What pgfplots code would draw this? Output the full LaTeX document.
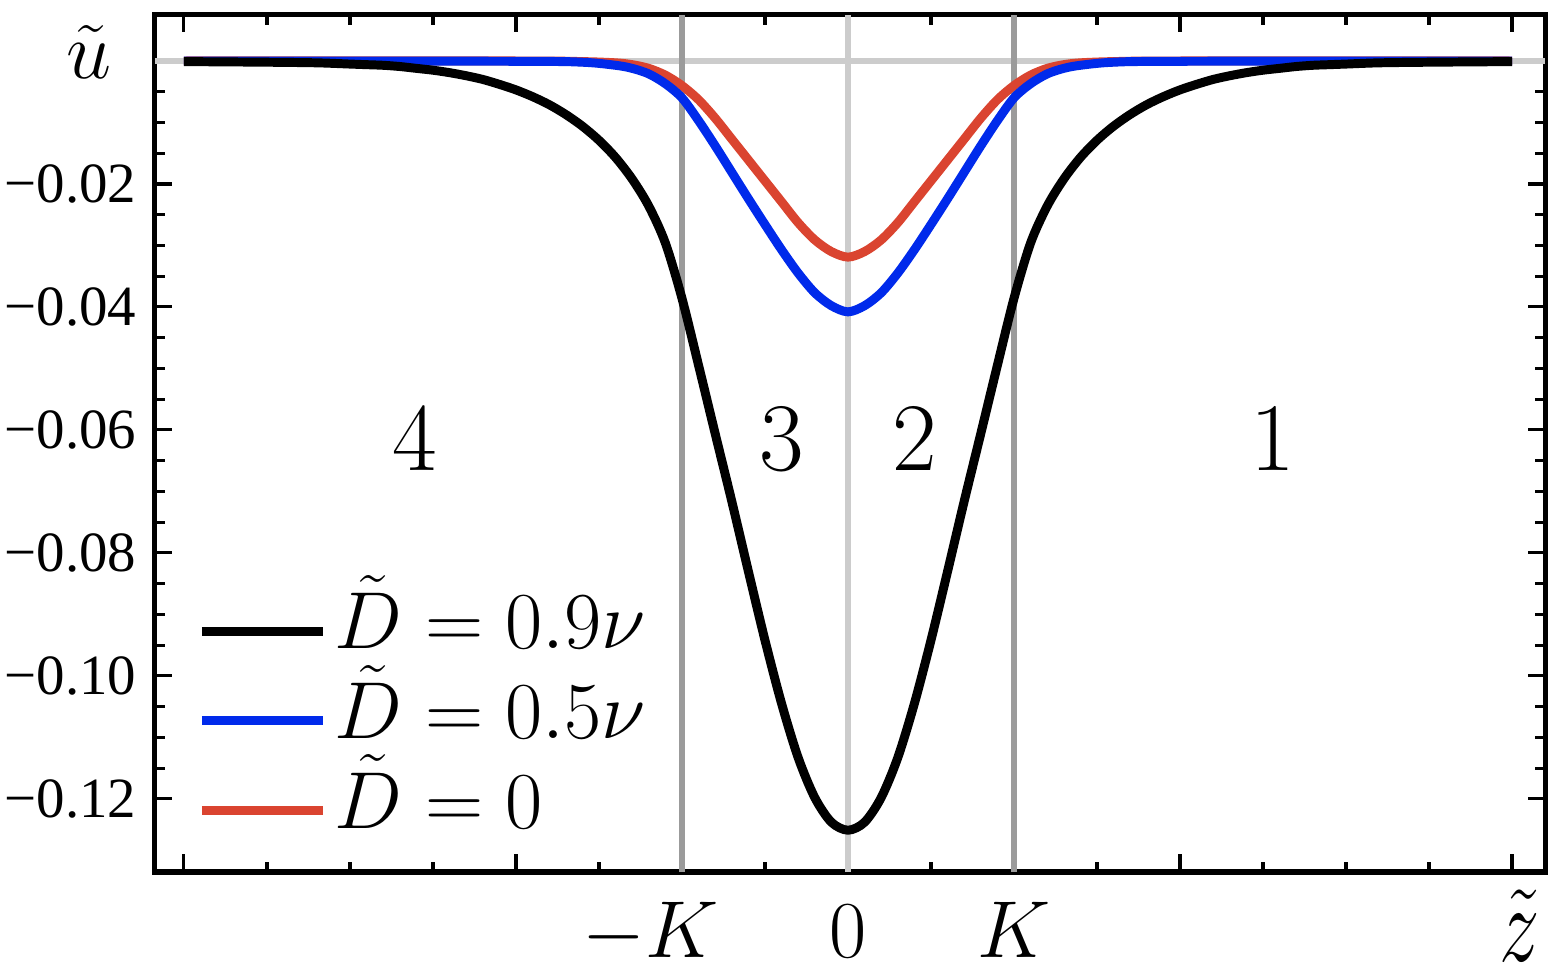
\documentclass[border=0pt]{standalone}
\usepackage{fontspec}
\usepackage{pgfplots}
\usepackage{pgfplotstable}
\pgfplotsset{compat=1.18}
\newfontfamily\tickfont{Liberation Serif}

\definecolor{mblue}{RGB}{0,42,235}
\definecolor{mred}{RGB}{218,68,48}
\definecolor{lgray}{RGB}{204,204,204}
\definecolor{dgray}{RGB}{155,155,155}

% D = 0.9 nu
\pgfplotstableread{
z u
-4.0 -0.0001
-3.5 -0.0002
-3.2 -0.0003
-3.0 -0.0005
-2.9 -0.0006
-2.8 -0.0007
-2.7 -0.0009
-2.6 -0.0012
-2.5 -0.0015
-2.4 -0.0019
-2.3 -0.0024
-2.2 -0.0030
-2.1 -0.0038
-2.0 -0.0047
-1.9 -0.0058
-1.8 -0.0071
-1.7 -0.0087
-1.6 -0.0106
-1.5 -0.0129
-1.4 -0.0157
-1.3 -0.0192
-1.2 -0.0236
-1.1 -0.0296
-1.0 -0.0386
-0.9 -0.0495
-0.8 -0.0606
-0.7 -0.0716
-0.6 -0.0830
-0.5 -0.0942
-0.4 -0.1045
-0.3 -0.1133
-0.2 -0.1198
-0.1 -0.1238
0.0 -0.1251
0.1 -0.1238
0.2 -0.1198
0.3 -0.1133
0.4 -0.1045
0.5 -0.0942
0.6 -0.0830
0.7 -0.0716
0.8 -0.0606
0.9 -0.0495
1.0 -0.0386
1.1 -0.0296
1.2 -0.0236
1.3 -0.0192
1.4 -0.0157
1.5 -0.0129
1.6 -0.0106
1.7 -0.0087
1.8 -0.0071
1.9 -0.0058
2.0 -0.0047
2.1 -0.0038
2.2 -0.0030
2.3 -0.0024
2.4 -0.0019
2.5 -0.0015
2.6 -0.0012
2.7 -0.0009
2.8 -0.0007
2.9 -0.0006
3.0 -0.0005
3.2 -0.0003
3.5 -0.0002
4.0 -0.0001
}\blackdata

% D = 0.5 nu
\pgfplotstableread{
z u
-4.0 0
-2.0 -0.00005
-1.6 -0.0002
-1.4 -0.0007
-1.3 -0.0012
-1.2 -0.0021
-1.1 -0.0037
-1.0 -0.0060
-0.9 -0.0097
-0.8 -0.0138
-0.7 -0.0181
-0.6 -0.0224
-0.5 -0.0266
-0.4 -0.0307
-0.3 -0.0345
-0.2 -0.0377
-0.1 -0.0398
0.0 -0.0408
0.1 -0.0398
0.2 -0.0377
0.3 -0.0345
0.4 -0.0307
0.5 -0.0266
0.6 -0.0224
0.7 -0.0181
0.8 -0.0138
0.9 -0.0097
1.0 -0.0060
1.1 -0.0037
1.2 -0.0021
1.3 -0.0012
1.4 -0.0007
1.6 -0.0002
2.0 -0.00005
4.0 0
}\bluedata

% D = 0
\pgfplotstableread{
z u
-4.0 0
-2.0 0
-1.6 -0.0001
-1.4 -0.0003
-1.3 -0.0006
-1.2 -0.0012
-1.1 -0.0023
-1.0 -0.0040
-0.9 -0.0063
-0.8 -0.0093
-0.7 -0.0127
-0.6 -0.0161
-0.5 -0.0195
-0.4 -0.0229
-0.3 -0.0263
-0.2 -0.0291
-0.1 -0.0310
0.0 -0.0319
0.1 -0.0310
0.2 -0.0291
0.3 -0.0263
0.4 -0.0229
0.5 -0.0195
0.6 -0.0161
0.7 -0.0127
0.8 -0.0093
0.9 -0.0063
1.0 -0.0040
1.1 -0.0023
1.2 -0.0012
1.3 -0.0006
1.4 -0.0003
1.6 -0.0001
2.0 0
4.0 0
}\reddata

\begin{document}
\begin{tikzpicture}
\begin{axis}[
    scale only axis,
    width=356.8pt, height=220pt,
    xmin=-4.175, xmax=4.199,
    ymin=-0.1319, ymax=0.0075,
    clip=false,
    axis line style={line width=1.3pt},
    tick pos=both,
    tick align=inside,
    xticklabel pos=lower,
    yticklabel pos=left,
    every tick/.style={black, line width=0.8pt},
    major tick length=4.5pt,
    minor tick length=2.6pt,
    xtick={-4,-2,0,2,4},
    xticklabels={,,$0$,,\hspace*{4pt}\raisebox{-1pt}{\scalebox{1}[1.35]{$\tilde z$}}},
    extra x ticks={-1,1},
    extra x tick labels={\llap{$-$}$K$,$K$},
    extra x tick style={major tick length=0pt},
    minor x tick num=3,
    ytick={-0.12,-0.10,-0.08,-0.06,-0.04,-0.02,0},
    yticklabels={−0.12,−0.10,−0.08,−0.06,−0.04,−0.02,{}},
    minor y tick num=3,
    x tick label style={font=\fontsize{22.5}{26}\selectfont, inner ysep=0pt,
        text height=14.5pt, text depth=0pt, yshift=-7.2pt},
    y tick label style={font=\tickfont\fontsize{14.6}{17}\selectfont,
        inner xsep=0pt, xshift=-4.6pt},
    legend cell align=left,
    legend image code/.code={\draw[#1] (0pt,0pt) -- (31pt,0pt);},
    legend style={draw=none, fill=none, inner sep=0pt,
        at={(rel axis cs:0.030,0.334)}, anchor=north west,
        font=\fontsize{20}{24}\selectfont,
        nodes={inner sep=2pt, text height=14pt, text depth=5pt},
        row sep=0pt},
]
\addlegendimage{black, line width=2.3pt}
\addlegendentry{$\tilde D=0.9\nu$}
\addlegendimage{mblue, line width=2.3pt}
\addlegendentry{$\tilde D=0.5\nu$}
\addlegendimage{mred, line width=2.3pt}
\addlegendentry{$\tilde D=0$}

% reference lines
\addplot[forget plot, lgray, line width=1.7pt] coordinates {(-4.175,0) (4.199,0)};
\addplot[forget plot, lgray, line width=1.7pt] coordinates {(0,-0.1319) (0,0.0075)};
\addplot[forget plot, dgray, line width=1.6pt] coordinates {(-1,-0.1319) (-1,0.0075)};
\addplot[forget plot, dgray, line width=1.6pt] coordinates {(1,-0.1319) (1,0.0075)};

\addplot[forget plot, mred, line width=2.3pt, smooth] table[x=z, y=u] {\reddata};
\addplot[forget plot, mblue, line width=2.3pt, smooth] table[x=z, y=u] {\bluedata};
\addplot[forget plot, black, line width=2.3pt, smooth] table[x=z, y=u] {\blackdata};

\node[font=\fontsize{24}{28}\selectfont] at (axis cs:-2.61,-0.0616) {$4$};
\node[font=\fontsize{24}{28}\selectfont] at (axis cs:-0.40,-0.0616) {$3$};
\node[font=\fontsize{24}{28}\selectfont] at (axis cs:0.40,-0.0616) {$2$};
\node[font=\fontsize{24}{28}\selectfont] at (axis cs:2.56,-0.0616) {$1$};

\node[anchor=base, font=\fontsize{20}{24}\selectfont] at (axis cs:-4.57,-0.0028) {$\tilde u$};

\path (axis cs:-5.108,0.00992) rectangle (axis cs:4.277,-0.1478);
\end{axis}
\end{tikzpicture}
\end{document}
